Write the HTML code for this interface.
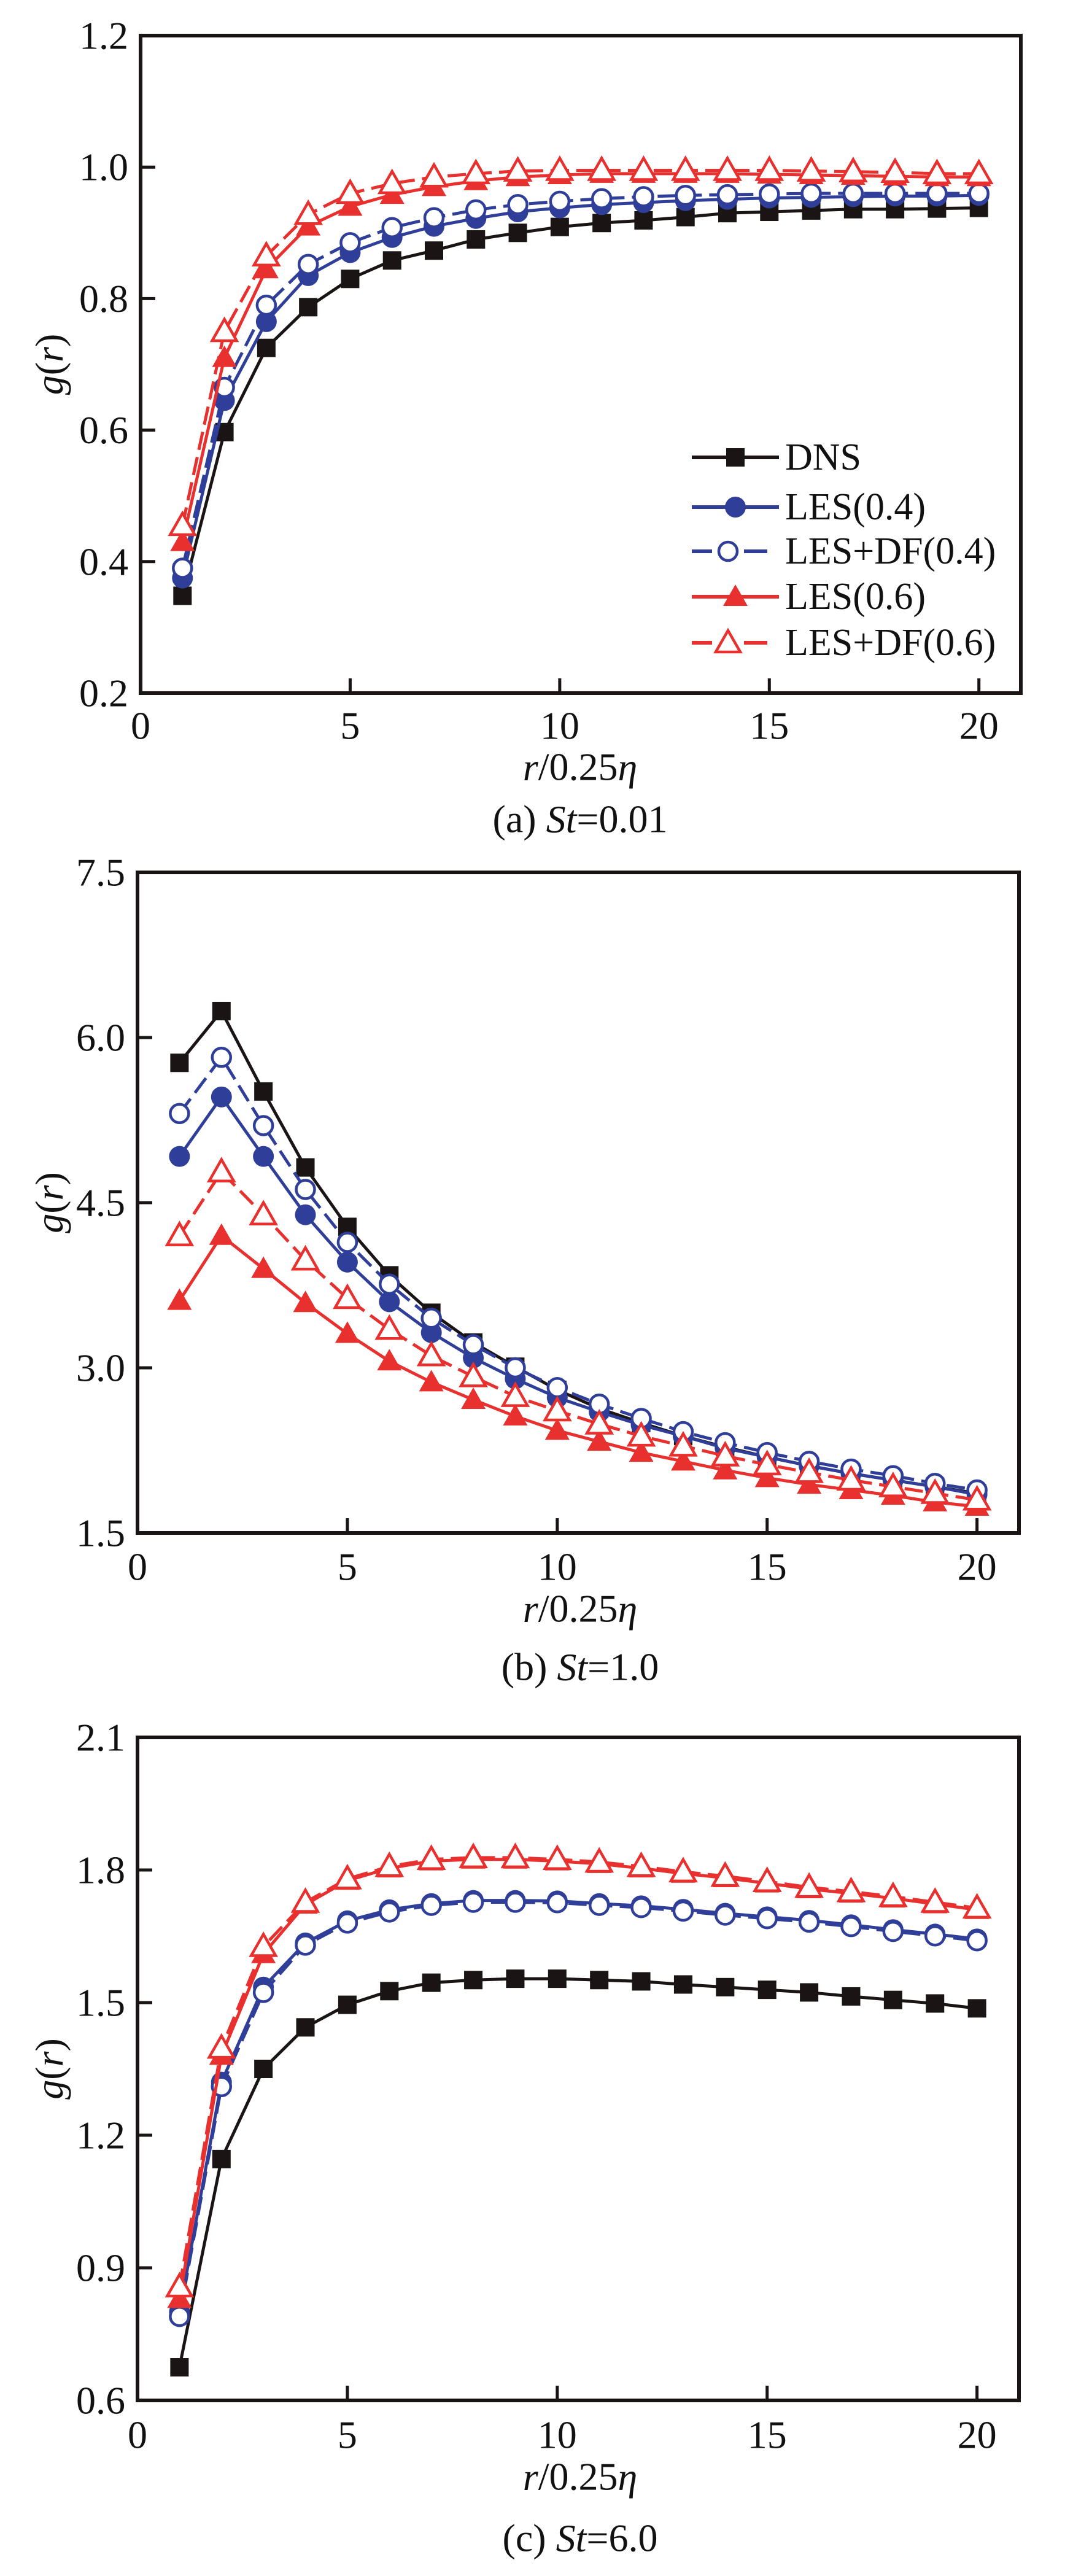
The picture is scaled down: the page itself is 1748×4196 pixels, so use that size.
<!DOCTYPE html>
<html><head><meta charset="utf-8"><style>
html,body{margin:0;padding:0;background:#fff;}
svg, svg text{font-family:"Liberation Serif","Times New Roman",serif;}
</style></head><body>
<svg id="fig" width="1748" height="4191" viewBox="0 0 1748 4191" xmlns="http://www.w3.org/2000/svg" font-family="Liberation Serif, Times New Roman, serif">
<rect width="1748" height="4191" fill="#fff"/>
</svg>
<script>
const xs = [1,2,3,4,5,6,7,8,9,10,11,12,13,14,15,16,17,18,19,20];
const xTicks = [0,5,10,15,20];
const seriesNames = ["DNS","LES(0.4)","LES+DF(0.4)","LES(0.6)","LES+DF(0.6)"];
// Panel (a) St=0.01
const aDNS   = [0.348,0.597,0.725,0.787,0.830,0.858,0.873,0.890,0.900,0.909,0.915,0.919,0.924,0.930,0.932,0.934,0.936,0.936,0.937,0.938];
const aLES4  = [0.375,0.645,0.765,0.835,0.870,0.893,0.910,0.922,0.932,0.938,0.943,0.946,0.949,0.951,0.953,0.954,0.955,0.956,0.956,0.957];
const aDF4   = [0.390,0.665,0.790,0.852,0.885,0.908,0.923,0.935,0.943,0.948,0.952,0.955,0.957,0.958,0.959,0.960,0.960,0.960,0.960,0.960];
const aLES6  = [0.430,0.710,0.845,0.910,0.940,0.958,0.970,0.979,0.985,0.988,0.990,0.990,0.990,0.990,0.989,0.988,0.987,0.986,0.985,0.985];
const aDF6   = [0.455,0.750,0.865,0.928,0.960,0.975,0.985,0.990,0.994,0.995,0.995,0.995,0.995,0.995,0.995,0.994,0.993,0.992,0.990,0.990];
const aYTicks = [0.2,0.4,0.6,0.8,1.0,1.2];
// Panel (b) St=1.0
const bDNS   = [5.77,6.24,5.51,4.82,4.28,3.84,3.50,3.23,3.01,2.80,2.63,2.50,2.38,2.28,2.19,2.11,2.04,1.98,1.92,1.86];
const bLES4  = [4.92,5.46,4.92,4.39,3.96,3.60,3.32,3.09,2.90,2.73,2.60,2.48,2.38,2.27,2.19,2.11,2.04,1.98,1.92,1.85];
const bDF4   = [5.31,5.82,5.20,4.62,4.14,3.76,3.45,3.21,3.00,2.82,2.67,2.54,2.42,2.32,2.23,2.15,2.08,2.02,1.95,1.89];
const bLES6  = [3.61,4.20,3.90,3.59,3.31,3.06,2.87,2.71,2.56,2.43,2.33,2.23,2.15,2.07,2.00,1.94,1.89,1.84,1.78,1.74];
const bDF6   = [4.20,4.78,4.39,3.98,3.63,3.35,3.11,2.92,2.74,2.61,2.49,2.38,2.29,2.20,2.12,2.05,1.98,1.92,1.86,1.80];
const bYTicks = [1.5,3.0,4.5,6.0,7.5];
// Panel (c) St=6.0
const cDNS   = [0.675,1.146,1.350,1.444,1.495,1.526,1.545,1.551,1.554,1.554,1.551,1.548,1.541,1.535,1.529,1.523,1.514,1.506,1.498,1.487];
const cLES4  = [0.800,1.320,1.535,1.635,1.685,1.710,1.724,1.731,1.731,1.730,1.724,1.719,1.711,1.702,1.694,1.686,1.676,1.665,1.655,1.644];
const cDF4   = [0.790,1.310,1.523,1.630,1.680,1.705,1.720,1.727,1.727,1.726,1.720,1.715,1.707,1.698,1.690,1.682,1.672,1.661,1.651,1.640];
const cLES6  = [0.830,1.380,1.610,1.722,1.776,1.804,1.820,1.824,1.824,1.820,1.814,1.804,1.792,1.782,1.770,1.757,1.747,1.736,1.723,1.710];
const cDF6   = [0.857,1.397,1.627,1.727,1.780,1.808,1.824,1.828,1.828,1.824,1.818,1.808,1.796,1.786,1.774,1.761,1.751,1.740,1.727,1.714];
const cYTicks = [0.6,0.9,1.2,1.5,1.8,2.1];

const NS="http://www.w3.org/2000/svg";
const svg=document.getElementById('fig');
function mk(tag,attrs,parent){const e=document.createElementNS(NS,tag);for(const k in attrs)e.setAttribute(k,attrs[k]);(parent||svg).appendChild(e);return e;}
const BLACK="#1a1414",BLUE="#2f3e98",RED="#e8302e";
const styles=[
 {c:BLACK,dash:null,m:"square",fill:true},
 {c:BLUE,dash:null,m:"circle",fill:true},
 {c:BLUE,dash:"30 12",m:"circle",fill:false},
 {c:RED,dash:null,m:"tri",fill:true},
 {c:RED,dash:"30 12",m:"tri",fill:false}
];
function marker(g,type,cx,cy,col,fill){
 let e;
 if(type==="square"){e=mk('rect',{x:cx-15,y:cy-15,width:30,height:30,fill:col},g);}
 else if(type==="circle"){e=mk('circle',{cx:cx,cy:cy,r:fill?17:15,fill:fill?col:"#fff",stroke:col,'stroke-width':fill?0:4.5},g);}
 else {e=mk('polygon',{points:`${cx},${cy-20} ${cx-20},${cy+15} ${cx+20},${cy+15}`,fill:fill?col:"#fff",stroke:col,'stroke-width':fill?0:4.5,'stroke-linejoin':'miter'},g);}
 
 
}
function panel(p){
 const g=mk('g',{});
 
 
 const X=v=>p.L+(v-0)/(21-0)*(p.R-p.L);
 const Y=v=>p.B-(v-p.ymin)/(p.ymax-p.ymin)*(p.B-p.T);
 p.data.forEach((arr,si)=>{
  const st=styles[si];
  const sg=mk('g',{},g);
  
  
  const pts=arr.map((v,i)=>X(xs[i])+','+Y(v)).join(' ');
  const ln=mk('polyline',{points:pts,fill:'none',stroke:st.c,'stroke-width':5,'stroke-linejoin':'round'},sg);
  if(st.dash)ln.setAttribute('stroke-dasharray',st.dash);
  
  
  arr.forEach((v,i)=>marker(sg,st.m,X(xs[i]),Y(v),st.c,st.fill));
 });
 const fr=mk('rect',{x:p.L,y:p.T,width:p.R-p.L,height:p.B-p.T,fill:'none',stroke:BLACK,'stroke-width':6},g);
 
 
 xTicks.forEach(t=>{
  const tk=mk('line',{x1:X(t),x2:X(t),y1:p.B,y2:p.B-24,stroke:BLACK,'stroke-width':5},g);
  
  
  const tl=mk('text',{x:X(t),y:p.xlY,'font-size':64,'text-anchor':'middle','dominant-baseline':'central',fill:'#111'},g);
  tl.textContent=t;
  
  
 });
 p.yTicks.forEach(t=>{
  const tk=mk('line',{x1:p.L,x2:p.L+24,y1:Y(t),y2:Y(t),stroke:BLACK,'stroke-width':5},g);
  
  
  const tl=mk('text',{x:p.L-20,y:Y(t),'font-size':64,'text-anchor':'end','dominant-baseline':'central',fill:'#111'},g);
  tl.textContent=t.toFixed(1);
  
  
 });
 const yt=mk('text',{x:0,y:0,'font-size':64,'text-anchor':'middle','dominant-baseline':'central',transform:`translate(80,${(p.T+p.B)/2}) rotate(-90)`,fill:'#111'},g);
 yt.innerHTML='<tspan font-style="italic">g</tspan>(<tspan font-style="italic">r</tspan>)';
 
 
 const xt=mk('text',{x:945,y:p.xtY,'font-size':64,'text-anchor':'middle','dominant-baseline':'central',fill:'#111'},g);
 xt.innerHTML='<tspan font-style="italic">r</tspan>/0.25<tspan font-style="italic">η</tspan>';
 
 
 const cp=mk('text',{x:945,y:p.capY,'font-size':64,'text-anchor':'middle','dominant-baseline':'central',fill:'#111'},g);
 cp.innerHTML=p.cap;
 
 
}
panel({name:'panel-a',L:229,R:1663,T:58,B:1129,ymin:0.2,ymax:1.2,yTicks:aYTicks,data:[aDNS,aLES4,aDF4,aLES6,aDF6],xlY:1182,xtY:1249,capY:1334,cap:'(a) <tspan font-style="italic">St</tspan>=0.01'});
panel({name:'panel-b',L:224,R:1660,T:1421,B:2497,ymin:1.5,ymax:7.5,yTicks:bYTicks,data:[bDNS,bLES4,bDF4,bLES6,bDF6],xlY:2552,xtY:2620,capY:2715,cap:'(b) <tspan font-style="italic">St</tspan>=1.0'});
panel({name:'panel-c',L:224,R:1660,T:2830,B:3910,ymin:0.6,ymax:2.1,yTicks:cYTicks,data:[cDNS,cLES4,cDF4,cLES6,cDF6],xlY:3966,xtY:4034,capY:4134,cap:'(c) <tspan font-style="italic">St</tspan>=6.0'});
const lg=mk('g',{});


const rowsY=[745,826,898,972,1047];
seriesNames.forEach((n,i)=>{
 const st=styles[i];
 const eg=mk('g',{},lg);
 
 
 const y=rowsY[i];
 if(st.dash){
  mk('line',{x1:1127,x2:1160,y1:y,y2:y,stroke:st.c,'stroke-width':6},eg);
  mk('line',{x1:1212,x2:1250,y1:y,y2:y,stroke:st.c,'stroke-width':6},eg);
 } else {
  mk('line',{x1:1127,x2:1269,y1:y,y2:y,stroke:st.c,'stroke-width':6},eg);
 }
 marker(eg,st.m,st.dash?1186:1198,y,st.c,st.fill);
 const t=mk('text',{x:1279,y:y,'font-size':62,'dominant-baseline':'central',fill:'#111'},eg);
 t.textContent=n;
 
 
});
</script>
</body></html>
